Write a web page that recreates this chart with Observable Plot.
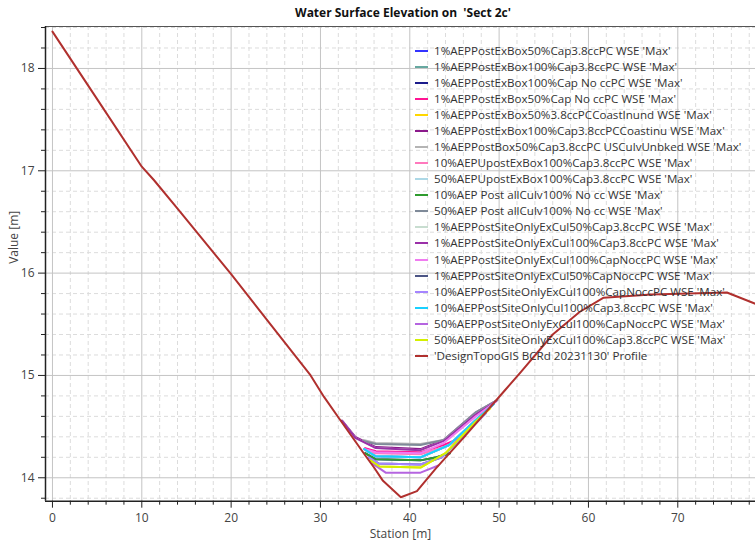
<!DOCTYPE html>
<html>
<head>
<meta charset="utf-8">
<script src="https://cdn.jsdelivr.net/npm/d3@7"></script>
<script src="https://cdn.jsdelivr.net/npm/@observablehq/plot@0.6"></script>
<style>
  body { margin: 0; background: #fff; font-family: "Open Sans", sans-serif; }
  #wrap { position: relative; width: 755px; height: 547px; overflow: hidden; background: #fff; }
  #title { position: absolute; top: 5px; left: 403px; transform: translateX(-50%); white-space: pre;
           font-weight: bold; font-size: 12px; color: #111; line-height: 16px; }
  #legend { position: absolute; left: 415px; top: 42.7px; font-size: 11.6px; color: #333; }
  .row { height: 16.07px; line-height: 16.07px; white-space: nowrap; display: flex; align-items: center; }
  .sw { width: 13px; height: 2px; margin-right: 6px; flex: none; }
</style>
</head>
<body>
<div id="wrap">
  <div id="chart"></div>
  <div id="title"></div>
  <div id="legend"></div>
</div>
<script>
// ---- Chart texts ----
const titleText = "Water Surface Elevation on  'Sect 2c'";
const xLabel = "Station [m]";
const yLabel = "Value [m]";

// ---- Axis ticks / domains ----
const xDomain = [-0.78, 78.7];
const yDomain = [13.771, 18.41];
const xMajorTicks = [0, 10, 20, 30, 40, 50, 60, 70];
const xMinorTicks = [2, 4, 6, 8, 12, 14, 16, 18, 22, 24, 26, 28, 32, 34, 36, 38, 42, 44, 46, 48, 52, 54, 56, 58, 62, 64, 66, 68, 72, 74, 76, 78];
const yMajorTicks = [14, 15, 16, 17, 18];
const yMinorTicks = [13.8, 14.2, 14.4, 14.6, 14.8, 15.2, 15.4, 15.6, 15.8, 16.2, 16.4, 16.6, 16.8, 17.2, 17.4, 17.6, 17.8, 18.2, 18.4];

// ---- Ground profile ----
const profileName = "'DesignTopoGIS BCRd 20231130' Profile";
const profileColor = "#b0302e";
const profileStation = [0, 5, 10, 11.35, 14, 20, 25.2, 28.9, 30.4, 32.25, 35, 36, 37, 39, 40.8, 42.9, 46, 50.7, 52.4, 56, 59, 61.7, 67, 75.5, 78.7];
const profileElev    = [18.36, 17.70, 17.04, 16.91, 16.63, 15.99, 15.41, 15.00, 14.79, 14.56, 14.22, 14.10, 13.97, 13.81, 13.87, 14.09, 14.39, 14.86, 15.03, 15.40, 15.62, 15.76, 15.79, 15.81, 15.70];

// ---- WSE series ----
const seriesNames = [
  "1%AEPPostExBox50%Cap3.8ccPC WSE 'Max'",
  "1%AEPPostExBox100%Cap3.8ccPC WSE 'Max'",
  "1%AEPPostExBox100%Cap No ccPC WSE 'Max'",
  "1%AEPPostExBox50%Cap No ccPC WSE 'Max'",
  "1%AEPPostExBox50%3.8ccPCCoastInund WSE 'Max'",
  "1%AEPPostExBox100%Cap3.8ccPCCoastinu WSE 'Max'",
  "1%AEPPostBox50%Cap3.8ccPC USCulvUnbked WSE 'Max'",
  "10%AEPUpostExBox100%Cap3.8ccPC WSE 'Max'",
  "50%AEPUpostExBox100%Cap3.8ccPC WSE 'Max'",
  "10%AEP Post allCulv100% No cc WSE 'Max'",
  "50%AEP Post allCulv100% No cc WSE 'Max'",
  "1%AEPPostSiteOnlyExCul50%Cap3.8ccPC WSE 'Max'",
  "1%AEPPostSiteOnlyExCul100%Cap3.8ccPC WSE 'Max'",
  "1%AEPPostSiteOnlyExCul100%CapNoccPC WSE 'Max'",
  "1%AEPPostSiteOnlyExCul50%CapNoccPC WSE 'Max'",
  "10%AEPPostSiteOnlyExCul100%CapNoccPC WSE 'Max'",
  "10%AEPPostSiteOnlyCul100%Cap3.8ccPC WSE 'Max'",
  "50%AEPPostSiteOnlyExCul100%CapNoccPC WSE 'Max'",
  "50%AEPPostSiteOnlyExCul100%Cap3.8ccPC WSE 'Max'"
];
const seriesColors = [
  "#3333ff", "#66a8a0", "#1c1c8c", "#ff1493", "#ffd700", "#8b1a8b", "#b4b4b4", "#ff79bd", "#add8e6", "#2e9b2e",
  "#7f8a99", "#c8ddd0", "#9b30a8", "#f07cf0", "#4c5585", "#a585ff", "#19d0ff", "#b565e0", "#d4f000"
];
const wseStation = [
  [34.9, 36.2, 41.2, 44.4, 47.7, 49.4],
  [34.9, 36.2, 41.2, 44.4, 47.7, 49.4],
  [35.0, 36.2, 41.2, 43.0, 44.5],
  [35.0, 36.2, 41.2, 43.8, 46.2],
  [35.6, 36.6, 41.2, 44.0, 47.4, 49.0],
  [32.4, 33.9, 36.2, 41.2, 43.8, 47.4, 49.8],
  [34.8, 36.2, 41.2, 43.8, 47.4, 49.8],
  [35.0, 36.2, 41.2, 43.8, 46.0],
  [34.9, 36.2, 41.2, 44.4, 47.7, 49.4],
  [35.0, 36.2, 41.2, 43.0, 44.5],
  [34.8, 36.2, 41.2, 43.8, 47.4, 49.8],
  [32.5, 33.9, 36.2, 41.2, 43.8, 47.4, 49.7],
  [32.5, 33.9, 36.2, 41.2, 43.8, 47.4, 49.7],
  [35.0, 36.2, 41.2, 43.8, 47.4, 49.6],
  [35.4, 36.5, 41.2, 43.6, 47.0, 48.5],
  [35.4, 36.5, 41.2, 43.6, 47.0, 48.5],
  [34.9, 36.2, 41.2, 44.4, 47.7, 49.4],
  [35.8, 37.3, 41.2, 43.2],
  [35.6, 36.6, 41.2, 44.0, 47.4, 49.0]
];
const wseValue = [
  [14.28, 14.21, 14.20, 14.32, 14.59, 14.72],
  [14.28, 14.21, 14.20, 14.32, 14.59, 14.72],
  [14.24, 14.18, 14.17, 14.20, 14.24],
  [14.29, 14.26, 14.25, 14.32, 14.41],
  [14.17, 14.11, 14.10, 14.24, 14.55, 14.68],
  [14.56, 14.40, 14.30, 14.28, 14.37, 14.64, 14.76],
  [14.37, 14.34, 14.33, 14.37, 14.64, 14.76],
  [14.27, 14.24, 14.23, 14.30, 14.39],
  [14.28, 14.21, 14.20, 14.32, 14.59, 14.72],
  [14.24, 14.18, 14.17, 14.20, 14.24],
  [14.36, 14.33, 14.32, 14.37, 14.64, 14.76],
  [14.55, 14.39, 14.29, 14.27, 14.36, 14.62, 14.75],
  [14.55, 14.39, 14.29, 14.27, 14.36, 14.62, 14.75],
  [14.28, 14.25, 14.24, 14.34, 14.60, 14.74],
  [14.20, 14.14, 14.13, 14.20, 14.50, 14.63],
  [14.20, 14.14, 14.13, 14.20, 14.50, 14.63],
  [14.28, 14.21, 14.20, 14.32, 14.59, 14.72],
  [14.14, 14.05, 14.05, 14.12],
  [14.17, 14.11, 14.10, 14.24, 14.55, 14.68]
];

// ---- Build tables ----
const wseRows = [];
seriesNames.forEach((name, i) => {
  wseStation[i].forEach((s, j) => wseRows.push({series: name, station: s, wse: wseValue[i][j]}));
});
const profileRows = profileStation.map((s, i) => ({station: s, elev: profileElev[i]}));

const font = "'Open Sans', sans-serif";
const chart = Plot.plot({
  width: 755,
  height: 547,
  marginTop: 26,
  marginLeft: 45,
  marginRight: 0,
  marginBottom: 46.3,
  style: {fontFamily: font, fontSize: "11.5px", color: "#444", background: "transparent"},
  x: {domain: xDomain},
  y: {domain: yDomain},
  color: {domain: seriesNames, range: seriesColors},
  marks: [
    Plot.ruleX(xMinorTicks, {stroke: "#dcdcdc", strokeDasharray: "4,3"}),
    Plot.ruleY(yMinorTicks, {stroke: "#dcdcdc", strokeDasharray: "4,3"}),
    Plot.ruleX(xMajorTicks, {stroke: "#c4c4c4"}),
    Plot.ruleY(yMajorTicks, {stroke: "#c4c4c4"}),
    Plot.line(wseRows, {x: "station", y: "wse", z: "series", stroke: "series", strokeWidth: 2}),
    Plot.line(profileRows, {x: "station", y: "elev", stroke: profileColor, strokeWidth: 2}),
    Plot.ruleY([yDomain[1]], {stroke: "#555", strokeWidth: 1.2}),
    Plot.ruleY([yDomain[0]], {stroke: "#222", strokeWidth: 1.5}),
    Plot.ruleX([xDomain[0]], {stroke: "#222", strokeWidth: 1.5}),
    Plot.axisX(xMajorTicks, {anchor: "bottom", tickSize: 7, tickPadding: 5, stroke: "#222", fill: "#444", fontSize: 12, label: null, tickFormat: d3.format("d")}),
    Plot.axisX(xMinorTicks, {anchor: "bottom", tickSize: 4, tickFormat: () => "", stroke: "#222", label: null}),
    Plot.axisY(yMajorTicks, {anchor: "left", tickSize: 7, tickPadding: 4, stroke: "#222", fill: "#444", fontSize: 12, label: null, tickFormat: d3.format("d")}),
    Plot.axisY(yMinorTicks, {anchor: "left", tickSize: 4, tickFormat: () => "", stroke: "#222", label: null}),
    Plot.text([xLabel], {frameAnchor: "bottom", dy: 37, fill: "#444", fontSize: 12}),
    Plot.text([yLabel], {frameAnchor: "left", dx: -31, rotate: -90, fill: "#444", fontSize: 12})
  ]
});
document.getElementById("chart").appendChild(chart);
document.getElementById("title").textContent = titleText;

// ---- Legend ----
const legend = document.getElementById("legend");
const legendNames = seriesNames.concat([profileName]);
const legendColors = seriesColors.concat([profileColor]);
legendNames.forEach((n, i) => {
  const row = document.createElement("div");
  row.className = "row";
  const sw = document.createElement("span");
  sw.className = "sw";
  sw.style.background = legendColors[i];
  const tx = document.createElement("span");
  tx.textContent = n;
  row.appendChild(sw);
  row.appendChild(tx);
  legend.appendChild(row);
});
</script>
</body>
</html>
